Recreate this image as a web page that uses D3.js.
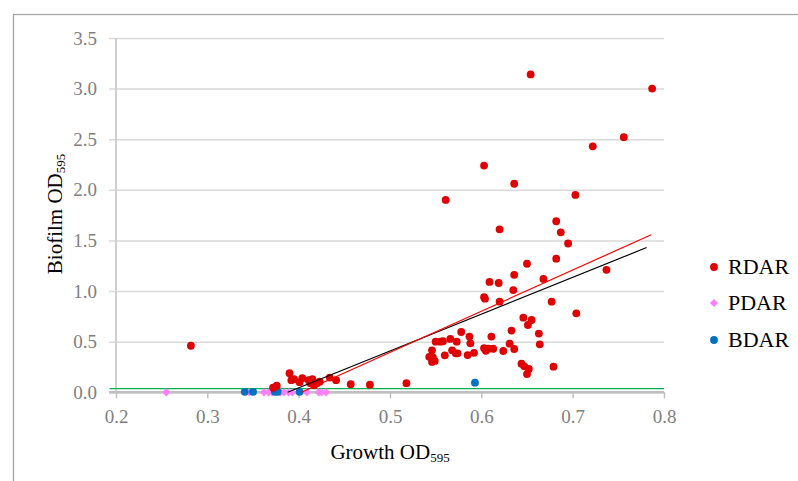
<!DOCTYPE html>
<html><head><meta charset="utf-8">
<script src="https://cdn.jsdelivr.net/npm/d3@7"></script>
<style>body{margin:0;background:#fff}svg{display:block}</style>
</head><body>
<svg id="chart" width="798" height="481"></svg>
<script>
const xTicks = [0.2,0.3,0.4,0.5,0.6,0.7,0.8];
const yTicks = [0,0.5,1,1.5,2,2.5,3,3.5];
const seriesNames = ["RDAR","PDAR","BDAR"];
const rdar = [[0.282,0.46],[0.372,0.045],[0.376,0.065],[0.390,0.188],[0.392,0.12],[0.395,0.13],[0.401,0.10],[0.404,0.14],[0.411,0.12],[0.413,0.09],[0.415,0.13],[0.417,0.07],[0.420,0.09],[0.423,0.105],[0.434,0.145],[0.441,0.12],[0.457,0.08],[0.478,0.075],[0.518,0.09],
[0.543,0.35],[0.547,0.345],[0.546,0.30],[0.549,0.31],[0.546,0.415],[0.550,0.50],[0.555,0.50],[0.558,0.504],[0.560,0.365],[0.561,1.90],[0.566,0.527],[0.568,0.415],[0.572,0.385],[0.574,0.385],[0.573,0.50],[0.578,0.596],[0.585,0.368],[0.587,0.55],[0.588,0.484],[0.592,0.39],
[0.603,2.24],[0.603,0.94],[0.604,0.925],[0.603,0.435],[0.605,0.41],[0.608,0.43],[0.609,1.09],[0.611,0.55],[0.613,0.43],[0.619,1.08],[0.620,1.61],[0.620,0.895],[0.624,0.408],[0.631,0.48],[0.633,0.61],[0.635,1.01],[0.636,1.16],[0.636,2.06],[0.636,0.428],[0.644,0.283],[0.646,0.737],[0.647,0.257],[0.650,1.27],[0.650,0.18],[0.651,0.665],[0.652,0.23],[0.654,3.14],[0.655,0.714],[0.663,0.58],[0.664,0.474],[0.668,1.12],[0.677,0.895],[0.679,0.253],[0.682,1.69],[0.682,1.32],[0.687,1.58],[0.695,1.47],[0.703,1.95],[0.704,0.78],[0.722,2.43],[0.737,1.21],[0.756,2.52],[0.787,3.00]];
const pdar = [[0.255,0],[0.346,0],[0.362,0],[0.367,0],[0.371,0],[0.380,0],[0.384,0],[0.389,0],[0.393,0],[0.409,0],[0.422,0],[0.425,0],[0.430,0]];
const bdar = [[0.341,0.005],[0.350,0.005],[0.374,0.005],[0.377,0.005],[0.401,0.005],[0.593,0.095]];
const trendAll = [[0.388,0],[0.781,1.43]];
const trendRdar = [[0.403,0],[0.786,1.557]];
const cutoff = [[0.193,0.036],[0.8,0.036]];

const svg = d3.select("#chart");
const FONT = "'Liberation Serif', 'Times New Roman', serif";
const x = d3.scaleLinear().domain([0.2,0.8]).range([116,664]);
const y = d3.scaleLinear().domain([0,3.5]).range([392.3,38]);

// outer frame
svg.append("rect").attr("x",13.5).attr("y",14.5).attr("width",800).attr("height",500)
  .attr("fill","none").attr("stroke","#a6a6a6").attr("stroke-width",1.3);

// gridlines + y axis
const yAxis = d3.axisLeft(y).tickValues(yTicks).tickFormat(d3.format(".1f"))
  .tickSize(-(664-109)).tickPadding(12);
const gy = svg.append("g").attr("transform","translate(109,0)").call(yAxis);
gy.select(".domain").remove();
gy.selectAll(".tick line").attr("stroke","#d9d9d9").attr("stroke-width",1.5);
gy.selectAll(".tick text").attr("font-family",FONT).attr("font-size",19).attr("fill","#808080");

// vertical axis line
svg.append("line").attr("x1",116).attr("x2",116).attr("y1",y(3.5)).attr("y2",y(0))
  .attr("stroke","#d0d0d0").attr("stroke-width",2);

// x axis
const xAxis = d3.axisBottom(x).tickValues(xTicks).tickFormat(d3.format(".1f"))
  .tickSize(6).tickPadding(11);
const gx = svg.append("g").attr("transform",`translate(0,${y(0)})`).call(xAxis);
gx.select(".domain").attr("stroke","#bfbfbf").attr("stroke-width",2.5).attr("d",`M${x(0.2)-7},0H${x(0.8)}`);
gx.selectAll(".tick line").attr("stroke","#bfbfbf").attr("stroke-width",1.5);
gx.selectAll(".tick text").attr("font-family",FONT).attr("font-size",19).attr("fill","#808080");

const line = d3.line().x(d=>x(d[0])).y(d=>y(d[1]));
svg.append("path").datum(cutoff).attr("d",line).attr("stroke","#00b050").attr("stroke-width",1.3).attr("fill","none");

const sq = d3.symbol().type(d3.symbolSquare).size(34);
const circ = d3.symbol().type(d3.symbolCircle).size(48);

svg.append("g").selectAll("path").data(pdar).join("path")
  .attr("d",sq).attr("fill","#ff80ff")
  .attr("transform",d=>`translate(${x(d[0])},${y(d[1])}) rotate(45)`);
svg.append("g").selectAll("path").data(bdar).join("path")
  .attr("d",circ).attr("fill","#0070c0")
  .attr("transform",d=>`translate(${x(d[0])},${y(d[1])})`);
svg.append("g").selectAll("path").data(rdar).join("path")
  .attr("d",circ).attr("fill","#e00000")
  .attr("transform",d=>`translate(${x(d[0])},${y(d[1])})`);

svg.append("path").datum(trendAll).attr("d",line).attr("stroke","#000").attr("stroke-width",1.2).attr("fill","none");
svg.append("path").datum(trendRdar).attr("d",line).attr("stroke","#ff0000").attr("stroke-width",1.2).attr("fill","none");

// axis titles
const xt = svg.append("text").attr("x",390).attr("y",459).attr("text-anchor","middle")
  .attr("font-family",FONT).attr("font-size",21).attr("fill","#000");
xt.append("tspan").text("Growth OD");
xt.append("tspan").attr("font-size",13).attr("dy",3).text("595");

const yt = svg.append("text").attr("transform","translate(62,214) rotate(-90)").attr("text-anchor","middle")
  .attr("font-family",FONT).attr("font-size",21).attr("fill","#000");
yt.append("tspan").text("Biofilm OD");
yt.append("tspan").attr("font-size",13).attr("dy",3).text("595");

// legend
const legColors = ["#e00000","#ff80ff","#0070c0"];
const legY = [267,303,340];
const lg = svg.append("g");
seriesNames.forEach((n,i)=>{
  lg.append("path").attr("d", i===1 ? sq() : circ())
    .attr("fill",legColors[i])
    .attr("transform",`translate(714,${legY[i]})` + (i===1?" rotate(45)":""));
  lg.append("text").attr("x",728).attr("y",legY[i]+7).attr("font-family",FONT)
    .attr("font-size",22).attr("fill","#000").text(n);
});
</script>
</body></html>
